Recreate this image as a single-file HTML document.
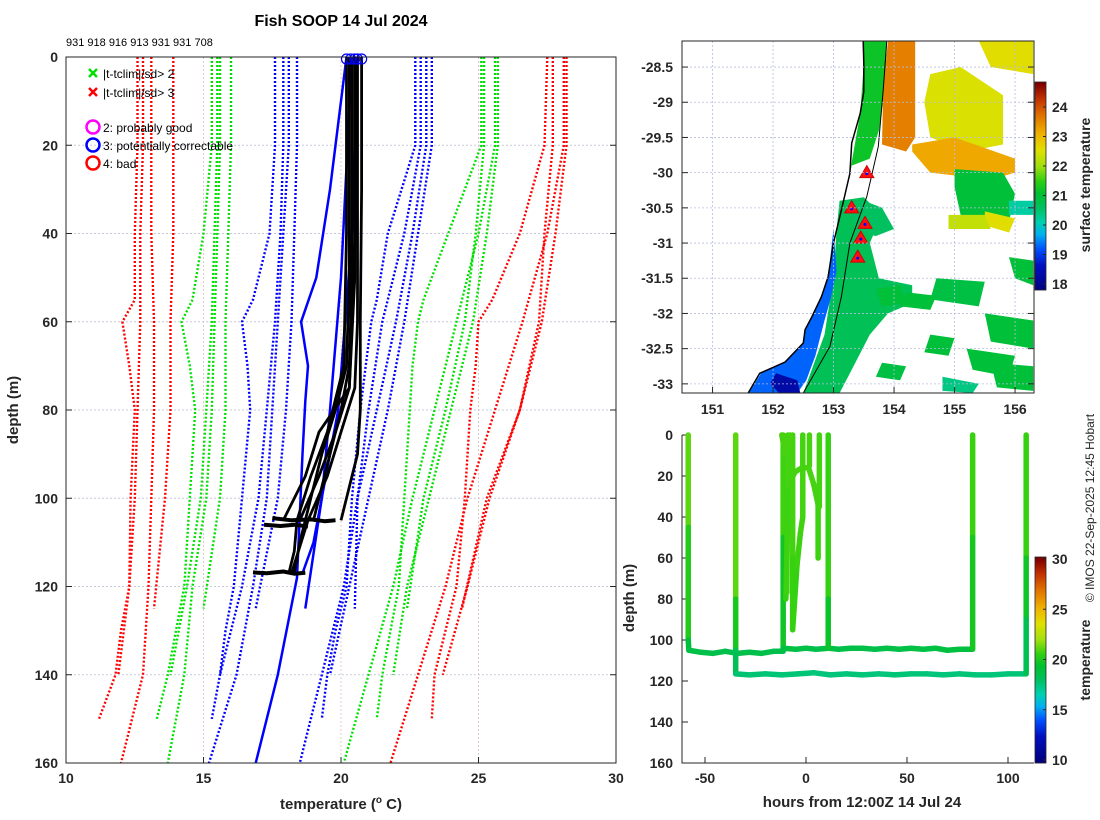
<!DOCTYPE html>
<html><head><meta charset="utf-8">
<style>
html,body{margin:0;padding:0;background:#fff;}
svg{display:block;font-family:"Liberation Sans","DejaVu Sans",sans-serif;}
.tk{font-size:14px;font-weight:bold;fill:#262626;}
</style></head>
<body>
<svg id="c" width="1100" height="820" viewBox="0 0 1100 820" xmlns="http://www.w3.org/2000/svg">
<text x="341" y="26" text-anchor="middle" font-size="16" font-weight="bold">Fish SOOP 14 Jul 2024</text>
<text x="66" y="46" font-size="11">931 918 916 913 931 931 708</text>
<text transform="translate(18,410) rotate(-90)" text-anchor="middle" font-size="15" font-weight="bold" fill="#262626">depth (m)</text>
<text x="341" y="809" text-anchor="middle" font-size="15" font-weight="bold" fill="#262626">temperature (<tspan font-size="10" dy="-6">o</tspan><tspan dy="6"> C)</tspan></text>
<text transform="translate(634,598) rotate(-90)" text-anchor="middle" font-size="15" font-weight="bold" fill="#262626">depth (m)</text>
<text x="862" y="807" text-anchor="middle" font-size="15" font-weight="bold" fill="#262626">hours from 12:00Z 14 Jul 24</text>
<text transform="translate(1090,185) rotate(-90)" text-anchor="middle" font-size="14" font-weight="bold" fill="#262626">surface temperature</text>
<text transform="translate(1090,660) rotate(-90)" text-anchor="middle" font-size="14" font-weight="bold" fill="#262626">temperature</text>
<text transform="translate(1094,508) rotate(-90)" text-anchor="middle" font-size="12" fill="#262626">© IMOS 22-Sep-2025 12:45 Hobart</text>
<g id="main"></g><g id="map"></g><g id="tp"></g>
</svg>
<script>
// ---------- main profile plot data ----------
const p1Depths=[0,20,40,55,60,70,80,100,120,130,140,150];
const p1RedL=[12.6,12.6,12.5,12.5,12.05,12.3,12.5,12.35,12.3,12.0,11.8,11.2];
const p1GreenL=[15.3,15.3,15.0,14.6,14.2,14.5,14.7,14.5,14.3,14.0,13.7,13.3];
const p1BlueL=[17.6,17.6,17.4,16.8,16.4,16.6,16.7,16.4,16.1,15.8,15.6,15.3];
const p1BlueR=[22.7,22.7,21.7,21.3,21.1,20.9,20.7,20.4,20.2,19.8,19.5,19.3];
const p1GreenR=[25.1,25.1,23.9,23.0,22.8,22.6,22.5,22.3,22.1,21.8,21.5,21.3];
const p1RedR=[27.5,27.4,26.5,25.5,25.0,24.9,24.7,24.5,24.2,23.8,23.4,23.3];
const p2Depths=[0,20,40,60,80,100,120,140,160];
const p2RedL=[13.1,13.1,13.1,13.2,13.2,13.1,13.0,12.8,12.0];
const p2GreenL=[15.6,15.6,15.5,15.4,15.3,15.1,14.6,14.3,13.7];
const p2BlueL=[18.1,18.1,17.9,17.7,17.5,17.3,16.8,16.2,15.2];
const p2BlueR=[23.1,23.1,22.6,22.0,21.3,20.6,20.1,19.3,18.5];
const p2GreenR=[25.6,25.6,25.0,24.2,23.4,22.6,21.9,21.0,20.1];
const p2RedR=[28.1,28.1,27.5,26.6,25.6,24.6,23.8,22.8,21.8];
const p3Depths=[0,20,40,60,80,100,125];
const p3RedL=[13.9,13.9,13.9,13.8,13.8,13.6,13.2];
const p3GreenL=[16.0,16.0,15.9,15.8,15.8,15.6,15.0];
const p3BlueL=[18.4,18.4,18.3,18.2,18.0,17.7,16.9];
const p3BlueR=[22.9,22.9,22.3,21.5,21.0,20.6,20.5];
const p3GreenR=[25.2,25.2,24.9,24.5,23.8,23.0,22.4];
const p3RedR=[27.7,27.7,27.4,27.2,26.5,25.3,24.4];
const p4Depths=[0,20,40,60,80,100,120,140];
const p4RedL=[12.8,12.8,12.7,12.7,12.6,12.5,12.3,11.9];
const p4GreenL=[15.5,15.5,15.4,15.3,15.1,14.9,14.4,13.8];
const p4BlueL=[17.9,17.9,17.8,17.6,17.3,17.0,16.4,15.6];
const p4BlueR=[23.3,23.3,22.8,22.3,21.7,21.0,20.3,19.6];
const p4GreenR=[25.7,25.7,25.3,24.8,24.0,23.2,22.4,21.9];
const p4RedR=[28.2,28.2,27.8,27.3,26.5,25.4,24.6,23.7];
// observed profiles (solid)
const k1Depths=[0,20,40,60,70,80,90,100,105];  const k1Temps=[20.4,20.4,20.4,20.35,20.3,20.0,19.6,19.2,19.0];
const k2Depths=[0,40,60,75,85,95,105];         const k2Temps=[20.5,20.5,20.4,20.3,19.8,19.2,18.5];
const k3Depths=[0,50,70,80,90,100,110,117];    const k3Temps=[20.3,20.3,20.2,19.8,19.3,18.9,18.5,18.3];
const k4Depths=[0,60,75,85,95,105,117];        const k4Temps=[20.6,20.6,20.5,20.0,19.5,18.8,18.2];
const k5Depths=[0,30,60,80,90,100,105];        const k5Temps=[20.75,20.75,20.7,20.7,20.6,20.2,20.0];
const k6Depths=[0,40,70,85,95,105,112,117];    const k6Temps=[20.2,20.2,20.1,19.5,18.9,18.4,18.3,18.1];
const k7Depths=[0,50,75,85,95,105];            const k7Temps=[20.55,20.5,20.3,19.2,18.7,17.9];
const s1Depths=[104.5,105,104.8,105.2,105];    const s1Temps=[17.5,18.2,18.9,19.4,19.8];
const s2Depths=[106,106.3,106,106.4];          const s2Temps=[17.2,17.8,18.3,18.8];
const s3Depths=[116.8,117,116.6,117.1,116.9];  const s3Temps=[16.8,17.3,17.9,18.3,18.7];
const b1Depths=[0,20,30,50,60,70,78,90,118,140,160]; const b1Temps=[20.2,19.8,19.6,19.1,18.55,18.8,18.7,18.6,18.4,17.7,16.9];
const b2Depths=[0,50,80,100,125];              const b2Temps=[20.4,20.0,19.6,19.3,18.7];
const b3Depths=[0,40,80,110,117];              const b3Temps=[20.6,20.4,19.9,19.0,18.6];
const topCircleTemps=[20.2,20.35,20.5,20.6,20.75];
const yTicksMain=[0,20,40,60,80,100,120,140,160];
const xTicksMain=[10,15,20,25,30];

// ---------- time-depth plot data ----------
const tr1Hours=[-58.3,-58.3,-58.3,-58,-52,-46,-40,-34,-28,-22,-16,-11.3];
const tr1Depths=[0,45,100,105,106,106.5,105.5,106.5,106,106.5,105.5,105.5];
const tr1Temps=[21.3,21.0,19.5,18.8,18.7,18.6,18.6,18.6,18.6,18.6,18.6,18.6];
const tr2Hours=[-34.8,-34.8,-34.8,-34.8,-28,-20,-12,-4,4,12,20,28,36,44,52,60,68,76,84,92,100,108.5];
const tr2Depths=[0,80,105,116.5,117,116.5,117,116.5,116,117,116.5,117,116.5,117,116.5,116.5,117,116.5,117,117,116.5,116.5];
const tr2Temps=[21.3,21.0,19.0,17.7,17.7,17.6,17.6,17.6,17.6,17.5,17.6,17.6,17.5,17.6,17.6,17.6,17.5,17.6,17.6,17.5,17.6,17.6];
const tr3Hours=[-11.3,-11.3,-11.3,-5,0,5,11,16,22,28,34,40,46,52,58,64,70,76,82.5];
const tr3Depths=[0,50,104,104.5,104,104.5,104,104.5,104,104,104.5,104,104.5,104,104.5,104,105,104.5,104.5];
const tr3Temps=[20.9,20.6,19.0,18.7,18.7,18.7,18.6,18.7,18.7,18.7,18.6,18.7,18.7,18.8,18.7,18.9,19.0,18.9,19.0];
const tr4Hours=[11,11,11];     const tr4Depths=[0,80,104];   const tr4Temps=[20.9,20.4,19.0];
const tr5Hours=[82.5,82.5,82.5]; const tr5Depths=[0,50,104]; const tr5Temps=[20.8,20.6,19.3];
const tr6Hours=[109,109,109,109]; const tr6Depths=[0,60,90,116.5]; const tr6Temps=[20.8,20.5,19.0,17.8];
const tr7Hours=[-9,-9,-9.5,-10]; const tr7Depths=[0,30,60,80]; const tr7Temps=[20.9,20.8,20.7,20.6];
const tr8Hours=[-6.6,-6.6,-6.6]; const tr8Depths=[0,60,95]; const tr8Temps=[20.9,20.8,20.6];
const tr9Hours=[-9.5,-9.2,-5.4,-2,1.3,3.8,6,6]; const tr9Depths=[77,25,18,16,16,24,34,60]; const tr9Temps=[20.7,20.8,20.9,20.9,20.9,20.9,20.8,20.7];
const tr10Hours=[-6.6,-4.5,-2.8,-1.6,-1.6]; const tr10Depths=[95,64,48,40,0]; const tr10Temps=[20.6,20.7,20.8,20.8,20.9];
const tr11Hours=[1.7,1.7]; const tr11Depths=[0,15]; const tr11Temps=[20.9,20.9];
const tr12Hours=[6.6,6.6]; const tr12Depths=[0,35]; const tr12Temps=[20.9,20.8];
const tr13Hours=[-12,-10,-8]; const tr13Depths=[0,10,0]; const tr13Temps=[20.9,20.9,20.9];
const yTicksTP=[0,20,40,60,80,100,120,140,160];
const xTicksTP=[-50,0,50,100];
const cbTicksTP=[10,15,20,25,30];

// ---------- map data ----------
const coastLon=[153.49,153.5,153.5,153.44,153.3,153.27,153.13,153.0,152.91,152.8,152.64,152.53,152.5,152.2,151.78,151.59];
const coastLat=[-28.13,-28.45,-28.85,-29.16,-29.58,-30.01,-30.53,-31.0,-31.48,-31.76,-32.05,-32.23,-32.42,-32.69,-32.85,-33.13];
const shelfLon=[153.88,153.82,153.74,153.55,153.27,153.13,152.94,152.5];
const shelfLat=[-28.13,-28.83,-29.63,-30.34,-31.0,-31.76,-32.47,-33.13];
const patchTemps=[20.7,19.3,18.3,20.6,21.2,23.6,22.5,23.2,22.6,21.0,20.9,21.0,21.0,22.6,21.0,21.0,20.4,21.0,21.0,21.0,20.9,22.3,20.2];
const patchLons=[
 [153.1,153.5,153.8,153.6,153.75,154.3,154.3,153.9,153.6,153.3,153.1,152.9,152.5,152.85,153.0,153.05],
 [153.0,153.05,152.95,152.85,152.7,152.55,152.4,151.6,151.8,152.2,152.5,152.53,152.64,152.8,152.91],
 [152.05,152.4,152.45,152.1,151.95],
 [153.2,153.5,153.8,154.0,153.7,153.4],
 [153.5,153.88,153.85,153.75,153.6,153.3,153.27,153.44,153.5],
 [153.9,154.35,154.35,154.2,153.8,153.82],
 [154.6,155.1,155.8,155.8,155.2,154.6,154.5],
 [154.3,155.0,156.0,156.0,155.6,154.6,154.3],
 [155.4,156.3,156.3,155.6],
 [155.0,155.8,156.0,155.9,155.1,155.0],
 [154.7,155.5,155.4,154.6],
 [155.5,156.3,156.3,155.6],
 [155.2,156.0,155.9,155.3],
 [155.5,156.0,155.9,155.5],
 [153.7,154.1,154.2,153.8],
 [155.9,156.3,156.3,156.0],
 [154.8,155.4,155.3,154.8],
 [154.2,154.7,154.6,154.1],
 [154.6,155.0,154.9,154.5],
 [155.6,156.3,156.3,155.7],
 [153.8,154.2,154.1,153.7],
 [154.9,155.5,155.6,154.9],
 [155.9,156.3,156.3,155.9]
];
const patchLats=[
 [-30.4,-30.35,-30.6,-31.0,-31.5,-31.6,-31.85,-32.0,-32.3,-32.8,-33.13,-33.13,-33.13,-32.3,-31.5,-30.8],
 [-30.8,-31.4,-31.8,-32.1,-32.6,-32.95,-33.13,-33.13,-32.85,-32.69,-32.42,-32.23,-32.05,-31.76,-31.48],
 [-32.85,-32.95,-33.13,-33.13,-33.0],
 [-30.4,-30.4,-30.5,-30.8,-30.9,-30.85],
 [-28.13,-28.13,-28.8,-29.4,-29.8,-29.9,-30.0,-29.16,-28.45],
 [-28.13,-28.13,-29.5,-29.7,-29.6,-28.8],
 [-28.6,-28.5,-28.9,-29.6,-29.7,-29.5,-29.0],
 [-29.6,-29.5,-29.8,-30.0,-30.1,-30.0,-29.7],
 [-28.13,-28.13,-28.6,-28.5],
 [-29.95,-30.0,-30.3,-30.7,-30.6,-30.2],
 [-31.5,-31.55,-31.9,-31.8],
 [-32.0,-32.1,-32.5,-32.4],
 [-32.5,-32.6,-32.9,-32.8],
 [-30.55,-30.65,-30.85,-30.75],
 [-31.65,-31.6,-31.85,-31.9],
 [-31.2,-31.25,-31.6,-31.5],
 [-32.9,-33.0,-33.13,-33.1],
 [-31.7,-31.75,-31.95,-31.9],
 [-32.3,-32.35,-32.6,-32.55],
 [-32.7,-32.75,-33.1,-33.05],
 [-32.7,-32.75,-32.95,-32.9],
 [-30.6,-30.6,-30.8,-30.8],
 [-30.4,-30.4,-30.6,-30.6]
];
const stationLon=[153.55,153.3,153.52,153.45,153.4];
const stationLat=[-30.0,-30.5,-30.72,-30.93,-31.2];
const lonTicks=[151,152,153,154,155,156];
const latTicks=[-28.5,-29,-29.5,-30,-30.5,-31,-31.5,-32,-32.5,-33];
const cbTicksMap=[18,19,20,21,22,23,24];

// ---------- helpers ----------
const NS='http://www.w3.org/2000/svg';
function mk(tag,attrs,parent){const e=document.createElementNS(NS,tag);for(const k in attrs)e.setAttribute(k,attrs[k]);parent.appendChild(e);return e;}
const stops=[[0,[0,0,128]],[0.12,[0,16,192]],[0.2,[0,80,255]],[0.27,[0,176,240]],[0.33,[0,208,176]],[0.4,[0,192,96]],[0.47,[0,192,48]],[0.53,[48,208,16]],[0.6,[160,224,16]],[0.68,[224,224,0]],[0.76,[240,176,0]],[0.85,[224,112,0]],[0.93,[192,48,0]],[1,[128,0,0]]];
function cmap(f){f=Math.max(0,Math.min(1,f));for(let i=1;i<stops.length;i++){if(f<=stops[i][0]){const a=stops[i-1],b=stops[i],u=(f-a[0])/(b[0]-a[0]);const c=a[1].map((v,j)=>Math.round(v+(b[1][j]-v)*u));return 'rgb('+c.join(',')+')';}}return 'rgb(128,0,0)';}

// ---------- main plot ----------
const G=document.getElementById('main');
const xT=t=>66+(t-10)*27.5, yD=d=>57+d*4.4125;
yTicksMain.forEach(d=>{ if(d>0&&d<160){const l=mk('line',{x1:66,x2:616,y1:yD(d),y2:yD(d),stroke:'#c8c8dc','stroke-width':1,'stroke-dasharray':'2,2'},G);}
 mk('line',{x1:66,x2:72,y1:yD(d),y2:yD(d),stroke:'#262626'},G);mk('line',{x1:610,x2:616,y1:yD(d),y2:yD(d),stroke:'#262626'},G);
 const t=mk('text',{x:58,y:yD(d)+5,'text-anchor':'end',class:'tk'},G);t.textContent=d;});
xTicksMain.forEach(v=>{ if(v>10&&v<30){const l=mk('line',{x1:xT(v),x2:xT(v),y1:57,y2:763,stroke:'#e0c8c8','stroke-width':1,'stroke-dasharray':'2,2'},G);}
 mk('line',{x1:xT(v),x2:xT(v),y1:757,y2:763,stroke:'#262626'},G);
 const t=mk('text',{x:xT(v),y:783,'text-anchor':'middle',class:'tk'},G);t.textContent=v;});
function prof(ds,ts,col,dash,w,name){const pts=ds.map((d,i)=>xT(ts[i]).toFixed(1)+','+yD(d).toFixed(1)).join(' ');const p=mk('polyline',{points:pts,fill:'none',stroke:col,'stroke-width':w,'stroke-linejoin':'round'},G);if(dash)p.setAttribute('stroke-dasharray',dash);
 
 }
const climSets=[[p1Depths,p1RedL,p1GreenL,p1BlueL,p1BlueR,p1GreenR,p1RedR],[p2Depths,p2RedL,p2GreenL,p2BlueL,p2BlueR,p2GreenR,p2RedR],[p3Depths,p3RedL,p3GreenL,p3BlueL,p3BlueR,p3GreenR,p3RedR],[p4Depths,p4RedL,p4GreenL,p4BlueL,p4BlueR,p4GreenR,p4RedR]];
const climCols=['#ff0000','#00e000','#0000ff','#0000ff','#00e000','#ff0000'];
const climNames=['clim-3sd-lower','clim-2sd-lower','clim-1sd-lower','clim-1sd-upper','clim-2sd-upper','clim-3sd-upper'];
climSets.forEach(s=>{for(let k=0;k<6;k++)prof(s[0],s[k+1],climCols[k],'2,2',2.4,climNames[k]);});
[[b1Depths,b1Temps],[b2Depths,b2Temps],[b3Depths,b3Temps]].forEach(a=>prof(a[0],a[1],'#0000ff',null,2.5,'profile-blue'));
[[k1Depths,k1Temps],[k2Depths,k2Temps],[k3Depths,k3Temps],[k4Depths,k4Temps],[k5Depths,k5Temps],[k6Depths,k6Temps],[k7Depths,k7Temps]].forEach(a=>prof(a[0],a[1],'#000',null,2.8,'profile-black'));
[[s1Depths,s1Temps],[s2Depths,s2Temps],[s3Depths,s3Temps]].forEach(a=>prof(a[0],a[1],'#000',null,4,'profile-bottom-trace'));
topCircleTemps.forEach(t=>{const c=mk('circle',{cx:xT(t),cy:yD(0)+2,r:5,fill:'none',stroke:'#0000ff','stroke-width':1.2},G);});
mk('rect',{x:66,y:57,width:550,height:706,fill:'none',stroke:'#262626','stroke-width':1},G);
// legend
function lx(y,col){mk('path',{d:`M89 ${y-4}L97 ${y+4}M97 ${y-4}L89 ${y+4}`,stroke:col,'stroke-width':2.5},G);}
lx(73,'#00e000');lx(92,'#ff0000');
[['|t-tclim|/sd> 2',78],['|t-tclim|/sd> 3',97]].forEach(a=>{const t=mk('text',{x:103,y:a[1],'font-size':12},G);t.textContent=a[0];});
[['#ff00ff','2: probably good',127],['#0000ff','3: potentially correctable',145],['#ff0000','4: bad',163]].forEach(a=>{mk('circle',{cx:93,cy:a[2],r:6.5,fill:'none',stroke:a[0],'stroke-width':2.5},G);const t=mk('text',{x:103,y:a[2]+5,'font-size':12},G);t.textContent=a[1];});

// ---------- map ----------
const M=document.getElementById('map');
const xL=l=>682.3+(l-150.5)*60.5, yL=a=>41+(-28.13-a)*70.4;
const cp=mk('clipPath',{id:'mc'},M);mk('rect',{x:682,y:41,width:352,height:352},cp);
const MG=mk('g',{'clip-path':'url(#mc)'},M);
patchLons.forEach((lons,i)=>{const pts=lons.map((l,j)=>xL(l).toFixed(1)+','+yL(patchLats[i][j]).toFixed(1)).join(' ');const p=mk('polygon',{points:pts,fill:cmap((patchTemps[i]-17.8)/7)},MG);});
lonTicks.forEach(v=>{const l=mk('line',{x1:xL(v),x2:xL(v),y1:41,y2:393,stroke:'#b8bce0','stroke-width':0.8,'stroke-dasharray':'2,2'},M);
 mk('line',{x1:xL(v),x2:xL(v),y1:387,y2:393,stroke:'#262626'},M);
 const t=mk('text',{x:xL(v),y:414,'text-anchor':'middle',class:'tk'},M);t.textContent=v;});
latTicks.forEach(v=>{const l=mk('line',{x1:682,x2:1034,y1:yL(v),y2:yL(v),stroke:'#b8bce0','stroke-width':0.8,'stroke-dasharray':'2,2'},M);
 mk('line',{x1:682,x2:688,y1:yL(v),y2:yL(v),stroke:'#262626'},M);mk('line',{x1:1028,x2:1034,y1:yL(v),y2:yL(v),stroke:'#262626'},M);
 const t=mk('text',{x:673,y:yL(v)+5,'text-anchor':'end',class:'tk'},M);t.textContent=v;});
const cl=mk('polyline',{points:coastLon.map((l,i)=>xL(l).toFixed(1)+','+yL(coastLat[i]).toFixed(1)).join(' '),fill:'none',stroke:'#000','stroke-width':1.5},MG);

const sh=mk('polyline',{points:shelfLon.map((l,i)=>xL(l).toFixed(1)+','+yL(shelfLat[i]).toFixed(1)).join(' '),fill:'none',stroke:'#000','stroke-width':1},MG);

stationLon.forEach((l,i)=>{const x=xL(l),y=yL(stationLat[i]);const p=mk('polygon',{points:`${x},${y-7} ${x-7},${y+5} ${x+7},${y+5}`,fill:'#ff1010',stroke:'#d00000','stroke-width':1},MG);mk('circle',{cx:x,cy:y+1,r:1.5,fill:'#0000ff'},MG);});
mk('rect',{x:682,y:41,width:352,height:352,fill:'none',stroke:'#262626'},M);
// map colorbar
const cbY=t=>284-(t-18)*29.5;
for(let y=82;y<290;y++){const t=18+(284-y)/29.5;mk('rect',{x:1035,y:y,width:11,height:1.2,fill:cmap((t-17.8)/7)},M);}
mk('rect',{x:1035,y:82,width:11,height:208,fill:'none',stroke:'#262626','stroke-width':0.8},M);
cbTicksMap.forEach(v=>{mk('line',{x1:1043,x2:1046,y1:cbY(v),y2:cbY(v),stroke:'#262626'},M);const t=mk('text',{x:1052,y:cbY(v)+5,class:'tk'},M);t.textContent=v;});

// ---------- time-depth plot ----------
const T=document.getElementById('tp');
const xH=h=>806+h*2.02, yB=d=>435+d*2.05;
yTicksTP.forEach(d=>{mk('line',{x1:682,x2:688,y1:yB(d),y2:yB(d),stroke:'#262626'},T);const t=mk('text',{x:673,y:yB(d)+5,'text-anchor':'end',class:'tk'},T);t.textContent=d;});
xTicksTP.forEach(h=>{mk('line',{x1:xH(h),x2:xH(h),y1:757,y2:763,stroke:'#262626'},T);const t=mk('text',{x:xH(h),y:783,'text-anchor':'middle',class:'tk'},T);t.textContent=h;});
const traces=[[tr1Hours,tr1Depths,tr1Temps],[tr2Hours,tr2Depths,tr2Temps],[tr3Hours,tr3Depths,tr3Temps],[tr4Hours,tr4Depths,tr4Temps],[tr5Hours,tr5Depths,tr5Temps],[tr6Hours,tr6Depths,tr6Temps],[tr7Hours,tr7Depths,tr7Temps],[tr8Hours,tr8Depths,tr8Temps],[tr9Hours,tr9Depths,tr9Temps],[tr10Hours,tr10Depths,tr10Temps],[tr11Hours,tr11Depths,tr11Temps],[tr12Hours,tr12Depths,tr12Temps],[tr13Hours,tr13Depths,tr13Temps]];
traces.forEach(tr=>{for(let i=1;i<tr[0].length;i++){const s=mk('line',{x1:xH(tr[0][i-1]),y1:yB(tr[1][i-1]),x2:xH(tr[0][i]),y2:yB(tr[1][i]),stroke:cmap(((tr[2][i-1]+tr[2][i])/2-10)/20),'stroke-width':5.5,'stroke-linecap':'round'},T);
 
 }});
mk('path',{d:'M682 435V763H1034',fill:'none',stroke:'#262626'},T);
const cbY2=t=>760-(t-10)*10.05;
for(let y=557;y<763;y++){const t=10+(760-y)/10.05;mk('rect',{x:1035,y:y,width:11,height:1.2,fill:cmap((t-10)/20)},T);}
mk('rect',{x:1035,y:557,width:11,height:206,fill:'none',stroke:'#262626','stroke-width':0.8},T);
cbTicksTP.forEach(v=>{mk('line',{x1:1043,x2:1046,y1:cbY2(v),y2:cbY2(v),stroke:'#262626'},T);const t=mk('text',{x:1052,y:cbY2(v)+5,class:'tk'},T);t.textContent=v;});
</script>
</body></html>
